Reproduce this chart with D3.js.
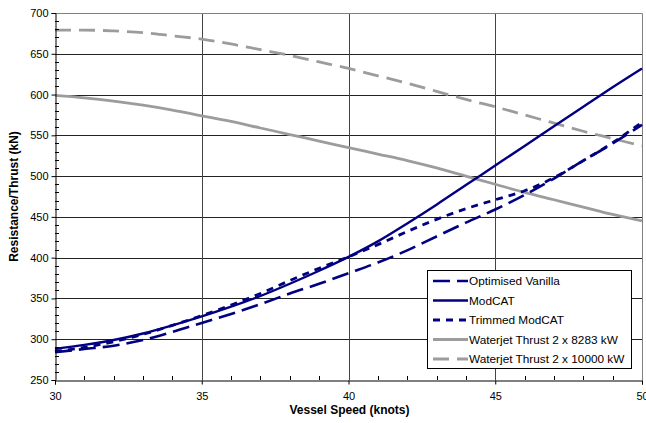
<!DOCTYPE html>
<html><head><meta charset="utf-8">
<script src="https://cdn.jsdelivr.net/npm/d3@7"></script>
<style>body{margin:0;background:#fff;}svg{display:block;font-family:"Liberation Sans",Arial,sans-serif;}</style>
</head><body>
<svg id="chart" width="646" height="423"></svg>
<script>
const speeds = [30,31,32,33,34,35,36,37,38,39,40,41,42,43,44,45,46,47,48,49,50];
const optimisedVanilla = [284,288,292,299,309,320,331,343,356,368,381,394,409,426,443,459,477,497,519,540,563];
const modCAT = [288,293,299,307,317,328,340,353,368,384,401,420,442,465,489,513,537,561,585,609,632];
const trimmedModCAT = [285,290,297,306,317,329,342,356,372,387,401,416,432,447,460,471,482,498,519,541,566];
const waterjet8283 = [599,596,592,587,581,574,567,559,551,543,535,527,519,510,500,490,480,471,462,453,445];
const waterjet10000 = [679,679,678,676,672,668,662,655,648,640,632,623,614,604,594,585,575,565,555,546,537];
const seriesNames = ["Optimised Vanilla","ModCAT","Trimmed ModCAT","Waterjet Thrust 2 x 8283 kW","Waterjet Thrust 2 x 10000 kW"];
const xTicks = [30,35,40,45,50];
const yTicks = [250,300,350,400,450,500,550,600,650,700];
const xLabel = "Vessel Speed (knots)";
const yLabel = "Resistance/Thrust (kN)";

const seriesValues = [optimisedVanilla, modCAT, trimmedModCAT, waterjet8283, waterjet10000];
const styles = [
  {color:"#000080", width:2.6, dash:"17,7"},
  {color:"#000080", width:2.4, dash:null},
  {color:"#000080", width:2.8, dash:"7,6"},
  {color:"#9c9c9c", width:2.8, dash:null},
  {color:"#9c9c9c", width:2.8, dash:"16,8"}
];

const svg = d3.select("#chart");
const L=55, R=642, T=13, B=380;
const x = d3.scaleLinear().domain([30,50]).range([L,R]);
const y = d3.scaleLinear().domain([250,700]).range([B,T]);

// gridlines
const g = svg.append("g");
g.selectAll(".hg").data(yTicks.filter(v=>v>250 && v<700)).join("line")
  .attr("x1",L).attr("x2",R).attr("y1",d=>Math.round(y(d))+0.5).attr("y2",d=>Math.round(y(d))+0.5)
  .attr("stroke","#222").attr("stroke-width",1);
g.selectAll(".vg").data(xTicks.filter(v=>v>30 && v<50)).join("line")
  .attr("y1",T).attr("y2",B).attr("x1",d=>Math.round(x(d))+0.5).attr("x2",d=>Math.round(x(d))+0.5)
  .attr("stroke","#444").attr("stroke-width",1);
// frame top/right
svg.append("path").attr("d",`M${L},${T+0.5}H${R+0.5}V${B}`).attr("fill","none").attr("stroke","#808080").attr("stroke-width",1);

// lines
const line = d3.line().x((d,i)=>x(speeds[i])).y(d=>y(d)).curve(d3.curveMonotoneX);
const plot = svg.append("g");
[3,4,0,2,1].forEach(k=>{
  plot.append("path").attr("d",line(seriesValues[k])).attr("fill","none")
    .attr("stroke",styles[k].color).attr("stroke-width",styles[k].width)
    .attr("stroke-dasharray",styles[k].dash);
});

// axes
const xAxis = d3.axisBottom(x).tickValues(xTicks).tickSize(4).tickPadding(8).tickFormat(d3.format("d"));
const xa = svg.append("g").attr("transform",`translate(0,${B+0.5})`).call(xAxis);
const yAxis = d3.axisLeft(y).tickValues(yTicks).tickSize(4).tickPadding(3).tickFormat(d3.format("d"));
const ya = svg.append("g").attr("transform",`translate(${L+0.5},0)`).call(yAxis);
[xa,ya].forEach(a=>{
  a.select(".domain").attr("stroke","#000");
  a.selectAll(".tick line").attr("stroke","#000");
  a.selectAll("text").attr("font-size","11px").attr("fill","#000").attr("font-family","'Liberation Sans',Arial,sans-serif");
});
// minor ticks inside
const xMinor = d3.range(30,50.01,1).filter(v=>v%5!==0);
svg.append("g").selectAll("line").data(xMinor).join("line")
  .attr("x1",d=>Math.round(x(d))+0.5).attr("x2",d=>Math.round(x(d))+0.5).attr("y1",B).attr("y2",B-4)
  .attr("stroke","#000");
const yMinor = d3.range(250,700.01,10).filter(v=>v%50!==0);
svg.append("g").selectAll("line").data(yMinor).join("line")
  .attr("y1",d=>Math.round(y(d))+0.5).attr("y2",d=>Math.round(y(d))+0.5).attr("x1",L).attr("x2",L+4)
  .attr("stroke","#000");

// axis titles
svg.append("text").attr("x",(L+R)/2+1).attr("y",414).attr("text-anchor","middle")
  .attr("font-size","12px").attr("font-weight","bold").text(xLabel);
svg.append("text").attr("transform",`translate(18,${(T+B)/2}) rotate(-90)`).attr("text-anchor","middle")
  .attr("font-size","12px").attr("font-weight","bold").text(yLabel);

// legend
const lg = svg.append("g");
const lx=427, ly=270, lw=204, lh=98;
lg.append("rect").attr("x",lx+0.5).attr("y",ly+0.5).attr("width",lw).attr("height",lh)
  .attr("fill","#fff").attr("stroke","#000").attr("stroke-width",1);
seriesNames.forEach((name,i)=>{
  const cy = ly + 11 + i*19.5;
  lg.append("line").attr("x1",lx+6).attr("x2",lx+41).attr("y1",cy).attr("y2",cy)
    .attr("stroke",styles[i].color).attr("stroke-width",styles[i].width)
    .attr("stroke-dasharray",styles[i].dash);
  lg.append("text").attr("x",lx+42).attr("y",cy+4).attr("font-size","11.8px").text(name);
});
</script>
</body></html>
